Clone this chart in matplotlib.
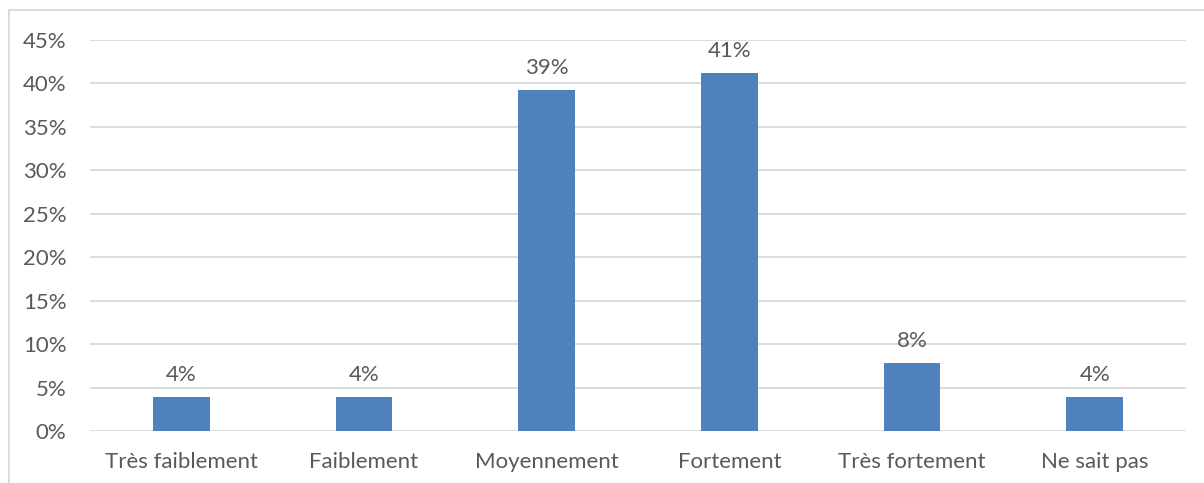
import matplotlib
matplotlib.use("Agg")
import matplotlib.pyplot as plt
from matplotlib.patches import Rectangle

categories = ["Très faiblement", "Faiblement", "Moyennement", "Fortement", "Très fortement", "Ne sait pas"]
values = [3.9, 3.9, 39.2, 41.2, 7.8, 3.9]
labels = ["4%", "4%", "39%", "41%", "8%", "4%"]
yticks = [0, 5, 10, 15, 20, 25, 30, 35, 40, 45]
ytick_labels = ["0%", "5%", "10%", "15%", "20%", "25%", "30%", "35%", "40%", "45%"]

plt.rcParams['font.family'] = ['Lato', 'DejaVu Sans']
text_color = "#595959"
fs = 16

fig = plt.figure(figsize=(12.04, 4.83), dpi=100)
ax = fig.add_axes([90/1204, 1 - 431/483, (1186-90)/1204, (431-40)/483])

x = list(range(len(categories)))
bars = ax.bar(x, values, width=0.31, color="#4F81BD", zorder=3)
for xi, v, lab in zip(x, values, labels):
    ax.annotate(lab, (xi, v), xytext=(0, 9), textcoords="offset points",
                ha="center", va="bottom", fontsize=fs, color=text_color)

ax.set_xlim(-0.5, len(categories) - 0.5)
ax.set_ylim(0, 45)
ax.set_yticks(yticks)
ax.set_yticklabels(ytick_labels)
ax.set_xticks(x)
ax.set_xticklabels(categories)
ax.tick_params(axis="both", length=0, labelsize=fs, colors=text_color)
ax.tick_params(axis="y", pad=17)
ax.tick_params(axis="x", pad=15)
ax.grid(axis="y", color="#D9D9D9", linewidth=1.3, zorder=0)
for s in ax.spines.values():
    s.set_visible(False)

# figure border (chart area outline)
fig.add_artist(Rectangle((9/1204, -0.05), 1.2, 1 - 10/483 + 0.05, transform=fig.transFigure,
                         fill=False, edgecolor="#D9D9D9", linewidth=1.3))

fig.savefig("out.png", dpi=100)
